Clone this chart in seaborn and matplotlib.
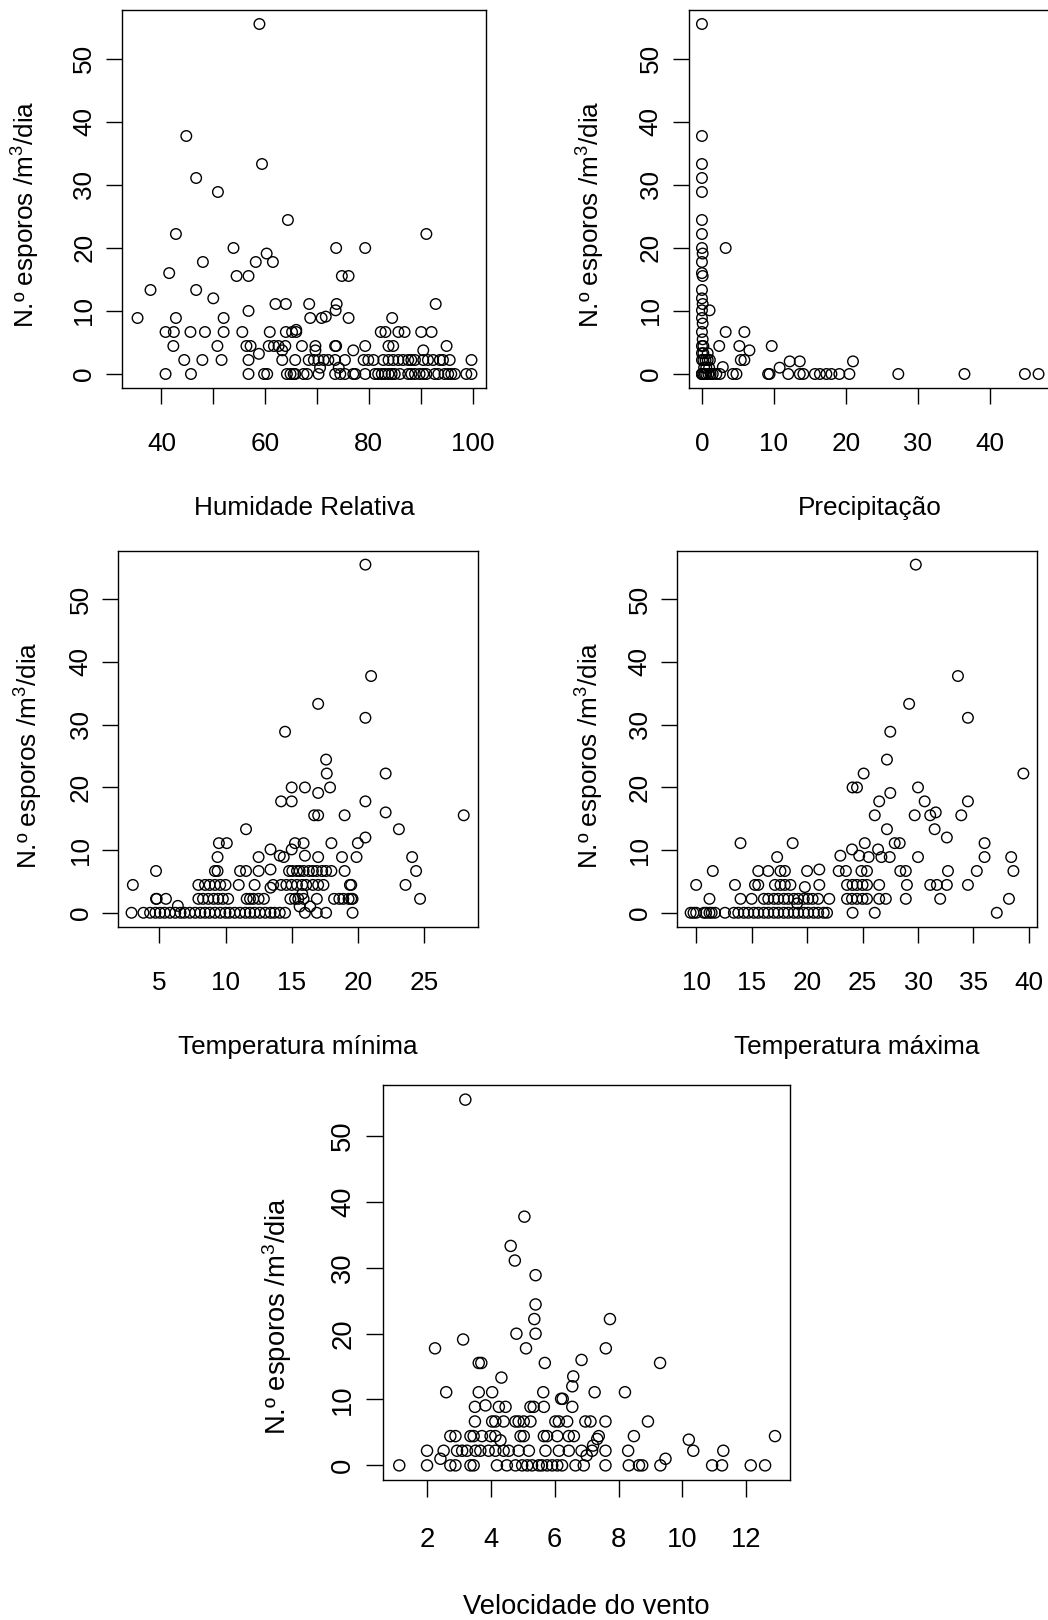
import matplotlib
matplotlib.use("Agg")
import matplotlib.pyplot as plt
import seaborn as sns
import pandas as pd

sns.set_theme(style="ticks")
plt.rcParams['font.family'] = ['Liberation Sans', 'DejaVu Sans']
plt.rcParams['mathtext.fontset'] = 'custom'
plt.rcParams['mathtext.rm'] = 'Liberation Sans'
plt.rcParams['mathtext.it'] = 'Liberation Sans'
plt.rcParams['text.color'] = 'black'
plt.rcParams['xtick.color'] = 'black'
plt.rcParams['ytick.color'] = 'black'

# ---------------- DATA ----------------
ylabel_text = "N.º esporos /m$^{3}$/dia"

# Humidade Relativa
hum_top_x = [58.9, 44.8, 59.4, 46.7, 50.9, 64.4, 42.8, 91.1, 53.9, 73.7, 79.3, 60.3, 48.0, 58.2, 61.5,
             41.5, 54.5, 56.8, 74.8, 76.1, 37.9, 46.7, 50.0, 62.0, 64.0, 68.5, 73.8, 92.9, 73.6, 56.8,
             71.7, 66.0, 90.5, 77.0, 58.8, 63.3, 69.7, 70.6, 74.2]
hum_top_y = [55.5, 37.74, 33.3, 31.08, 28.86, 24.42, 22.2, 22.2, 19.98, 19.98, 19.98, 19.1, 17.76, 17.76, 17.76,
             16.0, 15.54, 15.54, 15.54, 15.54, 13.32, 13.32, 12.0, 11.1, 11.1, 11.1, 11.1, 11.1, 10.1, 10.0,
             9.1, 7.0, 3.75, 3.75, 3.2, 3.75, 3.75, 1.0, 1.0]
hum_x9 = [35.4, 42.8, 52.0, 68.7, 70.9, 76.1, 84.5]
hum_x7 = [40.8, 42.4, 45.6, 48.4, 52.0, 55.6, 60.9, 64.0, 65.2, 66.0, 82.3, 83.2, 85.7, 86.9, 90.1, 92.1]
hum_x4 = [42.3, 50.8, 56.4, 57.2, 60.7, 61.7, 62.6, 63.9, 67.1, 69.7, 73.5, 73.7, 79.3, 83.8, 84.7, 95.0]
hum_x2 = [44.4, 47.9, 51.6, 56.8, 63.3, 65.8, 68.4, 69.4, 70.3, 71.3, 72.2, 73.5, 75.4, 79.0, 79.9, 80.9,
          82.8, 83.8, 84.7, 85.7, 86.6, 87.6, 88.2, 88.9, 90.5, 91.4, 92.4, 93.7, 94.3, 95.6, 99.8]
hum_x0 = [40.8, 45.7, 56.8, 59.8, 60.4, 64.2, 64.9, 65.5, 65.8, 67.4, 68.1, 70.3, 73.5, 74.5, 75.4, 77.0,
          77.4, 79.3, 81.2, 81.8, 82.5, 83.1, 83.8, 84.4, 85.0, 86.0, 87.6, 88.2, 88.9, 89.8, 90.5, 91.1,
          92.7, 93.4, 94.6, 95.3, 95.9, 96.6, 98.8, 99.8]

# Precipitação
prec_top_x = [0.0, 0.0, 0.0, 0.0, 0.0, 0.0, 0.0, 0.0, 0.1, 0.0, 0.0, 0.1, 0.0, 0.0, 0.1, 0.0, 0.0, 0.1,
              0.0, 0.1, 0.0, 0.2, 0.0, 0.3, 0.6, 1.0, 0.2, 0.8,
              1.06, 3.3, 3.3, 5.9, 2.4, 5.2, 6.6, 9.7, 5.4, 5.9, 2.9, 10.8, 12.2, 13.6, 21.0]
prec_top_y = [55.5, 37.74, 33.3, 31.08, 28.86, 24.42, 22.2, 19.98, 19.1, 17.76, 16.0, 15.54, 13.32, 12.0,
              11.1, 10.1, 8.88, 8.0, 6.66, 5.5, 4.44, 4.44, 3.3, 1.0, 1.0, 1.0, 3.3, 3.3,
              10.1, 19.98, 6.66, 6.66, 4.44, 4.44, 3.75, 4.44, 2.22, 2.22, 1.1, 1.0, 2.0, 2.0, 2.0]
prec_x2 = [0.0, 0.2, 0.5, 0.8, 1.1]
prec_x0 = [0.0, 0.0, 0.0, 0.2, 0.4, 0.6, 0.9, 1.2, 1.5, 2.0, 2.5, 4.3, 4.8, 9.2, 9.4, 12.0, 13.6, 14.1,
           15.7, 16.4, 17.3, 18.0, 19.1, 20.5, 27.3, 36.5, 44.9, 46.8]

# Temperatura mínima
tmin_top_x = [20.57, 21.0, 17.0, 20.57, 14.5, 17.6, 17.65, 22.1, 15.0, 16.0, 17.9, 17.0, 14.2, 15.0, 20.57,
              16.7, 17.0, 19.0, 22.1, 28.0, 11.55, 23.1, 20.57, 9.5, 10.1, 15.25, 15.9, 18.0, 20.0, 15.0,
              13.4, 9.4, 12.5, 14.1, 14.4, 16.0, 17.0, 18.8, 19.9, 24.1, 13.4, 13.4, 6.4, 15.6, 16.4, 15.8]
tmin_top_y = [55.5, 37.74, 33.3, 31.08, 28.86, 24.42, 22.2, 22.2, 19.98, 19.98, 19.98, 19.1, 17.76, 17.76, 17.76,
              15.54, 15.54, 15.54, 16.0, 15.54, 13.32, 13.32, 12.0, 11.1, 11.1, 11.1, 11.1, 11.1, 11.1, 10.1,
              10.1, 8.88, 8.88, 9.1, 8.88, 9.1, 8.88, 8.88, 8.88, 8.88, 6.9, 4.0, 1.1, 1.0, 1.0, 3.0]
tmin_x7 = [4.75, 9.2, 9.4, 11.1, 11.55, 12.5, 14.8, 15.05, 15.4, 15.6, 15.9, 16.3, 16.6, 16.9, 17.3, 17.6,
           18.0, 19.0, 24.4]
tmin_x4 = [3.0, 7.95, 8.45, 8.8, 9.2, 9.6, 10.0, 11.0, 12.2, 13.6, 14.2, 14.6, 15.0, 15.4, 15.8, 16.1, 16.6,
           17.0, 17.4, 19.4, 19.5, 23.6]
tmin_x2 = [4.75, 4.8, 5.5, 7.95, 8.3, 8.7, 9.1, 9.45, 9.8, 10.2, 11.6, 11.85, 12.1, 12.5, 12.9, 14.9, 15.25,
           15.5, 15.9, 16.9, 18.2, 18.6, 18.9, 19.3, 19.5, 19.6, 24.7]
tmin_x0 = [2.9, 3.8, 4.3, 4.7, 5.05, 5.4, 5.8, 6.2, 6.6, 6.9, 7.3, 7.7, 8.1, 8.45, 8.8, 9.2, 9.6, 10.0, 10.3,
           10.7, 11.1, 11.5, 11.85, 12.2, 12.6, 13.0, 13.4, 13.7, 14.1, 14.5, 16.0, 16.9, 17.6, 19.6]

# Temperatura máxima
tmax_top_x = [29.8, 33.6, 29.2, 34.5, 27.5, 27.2, 25.1, 39.5, 24.1, 24.5, 30.0, 27.5, 26.5, 30.6, 34.5,
              26.1, 29.7, 31.1, 31.6, 33.9, 27.2, 31.5, 32.6, 14.0, 18.7, 25.2, 27.9, 28.35, 36.0, 24.05,
              26.4, 17.3, 23.0, 24.7, 25.55, 26.7, 27.45, 30.0, 36.0, 38.4, 21.1, 19.8, 19.1]
tmax_top_y = [55.5, 37.74, 33.3, 31.08, 28.86, 24.42, 22.2, 22.2, 19.98, 19.98, 19.98, 19.1, 17.76, 17.76, 17.76,
              15.54, 15.54, 15.54, 16.0, 15.54, 13.32, 13.32, 12.0, 11.1, 11.1, 11.1, 11.1, 11.1, 11.1, 10.1,
              10.1, 8.88, 9.1, 9.1, 8.88, 8.88, 8.88, 8.88, 8.88, 8.88, 6.9, 4.1, 1.5]
tmax_x7 = [11.5, 15.6, 16.5, 17.6, 18.0, 20.0, 22.85, 23.5, 24.9, 25.4, 28.4, 28.9, 32.7, 35.3, 38.6]
tmax_x4 = [10.0, 13.5, 15.3, 15.6, 17.1, 17.6, 18.0, 18.5, 21.1, 23.6, 24.1, 24.5, 25.0, 25.4, 26.5, 29.0,
           31.1, 31.7, 32.6, 34.5]
tmax_x2 = [11.2, 14.0, 15.0, 16.1, 16.5, 17.0, 17.4, 17.9, 18.3, 18.8, 19.2, 19.7, 20.1, 20.5, 21.0, 22.0,
           23.6, 24.05, 24.5, 25.0, 25.4, 26.5, 27.1, 28.9, 32.0, 38.2]
tmax_x0 = [9.5, 9.76, 10.0, 10.7, 10.9, 11.2, 11.4, 11.7, 12.6, 13.4, 13.8, 14.3, 14.7, 15.2, 15.6, 16.1,
           16.5, 17.0, 17.4, 17.9, 18.3, 18.8, 19.2, 19.7, 20.1, 20.6, 21.0, 21.5, 21.8, 24.1, 26.1, 37.1]

# Velocidade do vento
vento_top_x = [3.2, 5.05, 4.62, 4.75, 5.4, 5.4, 5.36, 7.73, 4.8, 5.4, 3.13, 2.25, 5.1, 7.6, 3.62, 3.7, 5.69,
               6.84, 9.3, 4.33, 6.58, 6.55, 2.6, 3.62, 4.04, 5.64, 6.25, 6.2, 7.25, 8.2, 3.5, 3.83, 4.25,
               4.46, 5.24, 5.34, 5.66, 6.55, 2.42, 9.47, 7.33, 10.2, 4.3, 7.2, 7.0]
vento_top_y = [55.5, 37.74, 33.3, 31.08, 28.86, 24.42, 22.2, 22.2, 19.98, 19.98, 19.1, 17.76, 17.76, 17.76,
               15.54, 15.54, 15.54, 16.0, 15.54, 13.32, 13.5, 12.0, 11.1, 11.1, 11.1, 11.1, 10.1, 10.1, 11.1,
               11.1, 8.88, 9.1, 8.88, 8.88, 8.88, 8.88, 8.88, 8.88, 1.0, 1.0, 4.0, 3.9, 3.8, 3.0, 1.5]
vento_x7 = [3.5, 4.04, 4.14, 4.4, 4.77, 4.87, 5.03, 5.24, 6.02, 6.13, 6.39, 6.96, 7.12, 7.59, 8.92]
vento_x4 = [2.73, 2.89, 3.36, 3.46, 3.72, 3.99, 4.14, 4.93, 5.03, 5.66, 5.76, 6.08, 6.44, 6.6, 7.38, 8.48, 12.9]
vento_x2 = [2.0, 2.52, 2.94, 3.1, 3.25, 3.52, 3.67, 3.93, 4.14, 4.4, 4.56, 4.87, 5.19, 5.71, 6.13, 6.44,
            6.84, 7.17, 7.59, 8.3, 10.34, 11.28]
vento_x0 = [1.13, 2.0, 2.73, 2.89, 3.36, 3.46, 4.19, 4.5, 4.77, 4.98, 5.14, 5.29, 5.5, 5.6, 5.76, 5.92, 6.08,
            6.23, 6.65, 6.91, 7.59, 8.32, 8.64, 8.74, 9.31, 10.93, 11.24, 12.14, 12.59]

# y levels of the rows of points (spore counts)
lvl0, lvl2, lvl4, lvl7, lvl9 = 0.0, 2.22, 4.44, 6.66, 8.88


def frame(top_x, top_y, rows):
    xs = list(top_x)
    ys = list(top_y)
    for lvl, xr in rows:
        xs += xr
        ys += [lvl] * len(xr)
    return pd.DataFrame({"x": xs, "y": ys})


df_hum = frame(hum_top_x, hum_top_y, [(lvl9, hum_x9), (lvl7, hum_x7), (lvl4, hum_x4), (lvl2, hum_x2), (lvl0, hum_x0)])
df_prec = frame(prec_top_x, prec_top_y, [(lvl2, prec_x2), (lvl0, prec_x0)])
df_tmin = frame(tmin_top_x, tmin_top_y, [(lvl7, tmin_x7), (lvl4, tmin_x4), (lvl2, tmin_x2), (lvl0, tmin_x0)])
df_tmax = frame(tmax_top_x, tmax_top_y, [(lvl7, tmax_x7), (lvl4, tmax_x4), (lvl2, tmax_x2), (lvl0, tmax_x0)])
df_vento = frame(vento_top_x, vento_top_y, [(lvl7, vento_x7), (lvl4, vento_x4), (lvl2, vento_x2), (lvl0, vento_x0)])

y_ticks = [0, 10, 20, 30, 40, 50]

panels = [
    dict(df=df_hum, box=(122, 10, 486, 388), xlim=(32.4, 102.6),
         xticks=[40, 50, 60, 70, 80, 90, 100], xticklabels=["40", "", "60", "", "80", "", "100"],
         xlabel="Humidade Relativa", ylab_pos=(42.4, 214), xlab_off=108, sc=1.0),
    dict(df=df_prec, box=(688.5, 10, 1052, 388), xlim=(-1.87, 48.67),
         xticks=[0, 10, 20, 30, 40], xticklabels=["0", "10", "20", "30", "40"],
         xlabel="Precipitação", ylab_pos=(606.6, 214), xlab_off=108, sc=1.0),
    dict(df=df_tmin, box=(118.3, 550.7, 478.3, 926.7), xlim=(1.9, 29.1),
         xticks=[5, 10, 15, 20, 25], xticklabels=["5", "10", "15", "20", "25"],
         xlabel="Temperatura mínima", ylab_pos=(45.4, 755), xlab_off=108, sc=1.0),
    dict(df=df_tmax, box=(677.3, 550.7, 1036.7, 926.7), xlim=(8.3, 40.7),
         xticks=[10, 15, 20, 25, 30, 35, 40], xticklabels=["10", "15", "20", "25", "30", "35", "40"],
         xlabel="Temperatura máxima", ylab_pos=(605.7, 755), xlab_off=108, sc=1.0),
    dict(df=df_vento, box=(383.3, 1085, 790, 1480), xlim=(0.63, 13.37),
         xticks=[2, 4, 6, 8, 10, 12], xticklabels=["2", "4", "6", "8", "10", "12"],
         xlabel="Velocidade do vento", ylab_pos=(294, 1316), xlab_off=114, sc=1.05),
]

W, H = 1048, 1620
fig = plt.figure(figsize=(W / 100, H / 100), dpi=100)
fig.patch.set_facecolor("white")

base_fs = 18.8
for p in panels:
    l, t, r, b = p["box"]
    sc = p["sc"]
    ax = fig.add_axes([l / W, 1 - b / H, (r - l) / W, (b - t) / H])
    sns.scatterplot(data=p["df"], x="x", y="y", ax=ax, color="black",
                    edgecolor="black", s=58 * sc * sc, linewidth=1.0, legend=False)
    coll = ax.collections[-1]
    coll.set_facecolor("none")
    coll.set_edgecolor("black")
    ax.set_xlim(*p["xlim"])
    ax.set_ylim(-2.22, 57.72)
    ax.set_xticks(p["xticks"])
    ax.set_xticklabels(p["xticklabels"])
    ax.set_yticks(y_ticks)
    ax.set_yticklabels([str(v) for v in y_ticks])
    fs = base_fs * sc
    ax.tick_params(axis="both", direction="out", length=11.5 * sc, width=1.0,
                   labelsize=fs, colors="black")
    ax.tick_params(axis="x", pad=20.5 * sc)
    ax.tick_params(axis="y", pad=7 * sc, labelrotation=90)
    for lab in ax.get_yticklabels():
        lab.set_va("center")
    for sp in ax.spines.values():
        sp.set_visible(True)
        sp.set_color("black")
        sp.set_linewidth(1.0)
    ax.set_facecolor("white")
    w_px, h_px = r - l, b - t
    ax.set_xlabel(p["xlabel"], fontsize=fs, color="black")
    ax.xaxis.set_label_coords(0.5, -p["xlab_off"] / h_px)
    ax.set_ylabel(ylabel_text, fontsize=fs, color="black")
    yx, yy = p["ylab_pos"]
    ax.yaxis.set_label_coords((yx - l) / w_px, (b - yy) / h_px)

fig.savefig("out.png", dpi=100, facecolor="white")
